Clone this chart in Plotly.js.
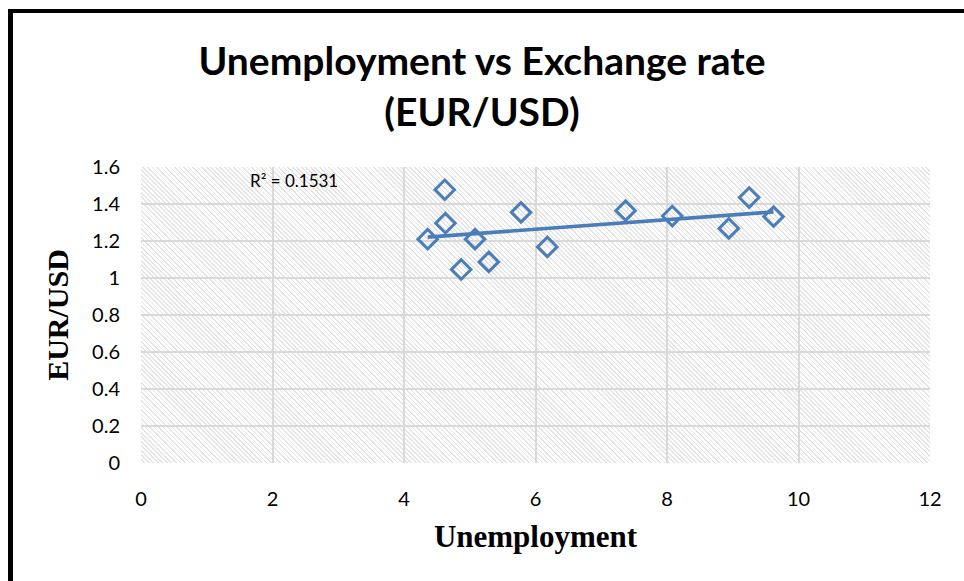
<!DOCTYPE html>
<html>
<head>
<meta charset="utf-8">
<script src="https://cdn.plot.ly/plotly-3.0.1.min.js"></script>
<style>
  html, body { margin: 0; padding: 0; background: #fff; }
  #wrap { position: relative; width: 964px; height: 581px; overflow: hidden; background: #fff; }
  #hatch { position: absolute; left: 141px; top: 167px; width: 789px; height: 296px;
           background: repeating-linear-gradient(45deg, #ffffff 0px, #ffffff 2px, #e4e4e4 2px, #e4e4e4 3.2px); }
  #chart { position: absolute; left: 0; top: 0; width: 964px; height: 581px; }
  #frame { position: absolute; left: 8px; top: 9px; width: 1000px; height: 600px;
           border-left: 5px solid #000; border-top: 4px solid #000; pointer-events: none; }
</style>
</head>
<body>
<div id="wrap">
  <div id="hatch"></div>
  <div id="chart"></div>
  <div id="frame"></div>
</div>
<script>
// Data
const unemployment = [4.36, 4.62, 4.63, 4.87, 5.08, 5.29, 5.78, 6.18, 7.37, 8.08, 8.94, 9.25, 9.62];
const eurUsd       = [1.21, 1.477, 1.296, 1.046, 1.21, 1.087, 1.355, 1.168, 1.364, 1.335, 1.268, 1.435, 1.332];
const xTicks = [0, 2, 4, 6, 8, 10, 12];
const yTicks = [0, 0.2, 0.4, 0.6, 0.8, 1, 1.2, 1.4, 1.6];
const yTickLabels = ['0', '0.2', '0.4', '0.6', '0.8', '1', '1.2', '1.4', '1.6'];
const rSquaredLabel = 'R² = 0.1531';
const xRange = [0, 12];
const yRange = [0, 1.6];

// Linear least-squares trendline computed from the data
const n = unemployment.length;
const mx = unemployment.reduce((a, b) => a + b, 0) / n;
const my = eurUsd.reduce((a, b) => a + b, 0) / n;
let sxy = 0, sxx = 0;
for (let i = 0; i < n; i++) { sxy += (unemployment[i] - mx) * (eurUsd[i] - my); sxx += (unemployment[i] - mx) ** 2; }
const slope = sxy / sxx, intercept = my - slope * mx;
const trendX = [Math.min(...unemployment), Math.max(...unemployment)];
const trendY = trendX.map(x => intercept + slope * x);

const blue = '#4a7dba';
const tickFont = { family: 'Lato, "Open Sans", sans-serif', size: 20, color: '#000' };

const pts = {
  x: unemployment, y: eurUsd, mode: 'markers', type: 'scatter',
  marker: { symbol: 'diamond-open', size: 15, color: blue, line: { color: blue, width: 3 } },
  showlegend: false
};

const trend = {
  x: trendX, y: trendY, mode: 'lines', type: 'scatter',
  line: { color: blue, width: 3.6 }, showlegend: false, hoverinfo: 'skip'
};

const layout = {
  width: 964, height: 581,
  margin: { l: 141, r: 34, t: 167, b: 118 },
  paper_bgcolor: 'rgba(0,0,0,0)', plot_bgcolor: 'rgba(0,0,0,0)',
  title: {
    text: '<b>Unemployment vs Exchange rate<br>(EUR/USD)</b>',
    font: { family: 'Lato, "Open Sans", sans-serif', size: 39, color: '#000' },
    x: 0.5, xanchor: 'center', y: 0.871, yanchor: 'middle'
  },
  xaxis: {
    range: xRange, tickvals: xTicks, ticktext: xTicks.map(String),
    showgrid: true, gridcolor: '#d9d9d9', gridwidth: 2, zeroline: false,
    showline: false, ticks: '', ticklabelstandoff: 22,
    tickfont: tickFont,
    title: { text: '<b>Unemployment</b>', standoff: 16,
             font: { family: '"Liberation Serif", "Times New Roman", serif', size: 31, color: '#000' } }
  },
  yaxis: {
    range: yRange, tickvals: yTicks, ticktext: yTickLabels,
    showgrid: true, gridcolor: '#d9d9d9', gridwidth: 2, zeroline: false,
    showline: false, ticks: '', ticklabelstandoff: 20,
    tickfont: tickFont,
    title: { text: '<b>EUR/USD</b>', standoff: 14,
             font: { family: '"Liberation Serif", "Times New Roman", serif', size: 30, color: '#000' } }
  },
  annotations: [{
    xref: 'paper', yref: 'paper', x: 0.135, y: 0.953, xanchor: 'left', yanchor: 'middle',
    text: rSquaredLabel, showarrow: false,
    font: { family: 'Lato, "Open Sans", sans-serif', size: 17, color: '#000' }
  }]
};

Plotly.newPlot('chart', [trend, pts], layout, { displayModeBar: false, staticPlot: true });
</script>
</body>
</html>
